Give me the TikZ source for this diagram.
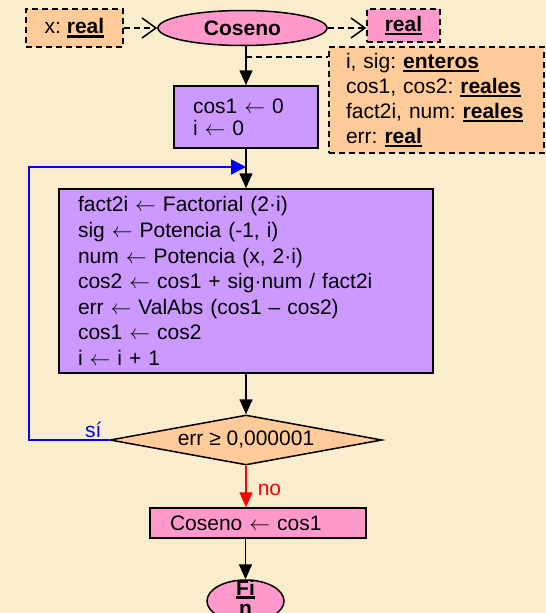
\documentclass[tikz,border=0pt]{standalone}
\usepackage{fontspec}
\setmainfont{Liberation Sans}
\usepackage{tikz}
\usetikzlibrary{arrows.meta,shapes.geometric,positioning}
\definecolor{fondo}{RGB}{250,237,205}
\definecolor{melocoton}{RGB}{255,204,153}
\definecolor{rosa}{RGB}{255,153,204}
\definecolor{lila}{RGB}{204,153,255}
\newsavebox{\tipobox}
\newcommand{\tipo}[1]{\sbox{\tipobox}{\textbf{#1}}\rlap{\rule[-4pt]{\wd\tipobox}{2.6pt}}\usebox{\tipobox}}
\newcommand{\asig}{\ensuremath{\leftarrow}}

\begin{document}
\frenchspacing
\begin{tikzpicture}[x=1pt,y=-1pt,
		font=\fontsize{21}{25}\selectfont,
		caja/.style={draw,line width=1.5pt,align=left,inner xsep=19pt,inner ysep=0pt},
		dato/.style={draw,line width=1.5pt,dash pattern=on 6pt off 4pt,fill=melocoton},
		flecha/.style={line width=1.5pt,-{Triangle[length=15pt,width=13pt]}},
		flechad/.style={line width=1.5pt,dash pattern=on 6pt off 4pt,-{Straight Barb[length=14pt,width=20pt]}}]
			\fill[fondo] (0,0) rectangle (546,613);
			\useasboundingbox (0,0) rectangle (546,613);
			\node[dato,minimum width=97pt,minimum height=38pt] (entrada) at (74.5,28) {x: \tipo{real}};
			\node[draw,ellipse,line width=1.5pt,fill=rosa,minimum width=169pt,minimum height=35pt,inner sep=0pt] (coseno) at (242.5,28) {\textbf{Coseno}};
			\node[dato,fill=rosa,minimum width=73pt,minimum height=33pt] (salida) at (403.5,25.5) {\tipo{real}};
			\node[dato,align=left,text width=181pt,inner xsep=17pt,minimum height=106pt] (locales) at (436.5,100) {i, sig: \tipo{enteros}\\cos1, cos2: \tipo{reales}\\fact2i, num: \tipo{reales}\\err: \tipo{real}};
			\node[caja,fill=lila,text width=106pt,minimum height=62pt,font=\fontsize{21}{22}\selectfont] (ini) at (246,117) {cos1 \asig{} 0\\i \asig{} 0};
			\node[caja,fill=lila,text width=336pt,minimum height=184pt,font=\fontsize{21}{25.6}\selectfont] (cuerpo) at (246,281) {fact2i \asig{} Factorial (2·i)\\sig \asig{} Potencia (-1, i)\\num \asig{} Potencia (x, 2·i)\\cos2 \asig{} cos1 + sig·num / fact2i\\err \asig{} ValAbs (cos1 – cos2)\\cos1 \asig{} cos2\\i \asig{} i + 1};
			\node[draw,diamond,line width=1.5pt,fill=melocoton,aspect=5.44,minimum width=272pt,minimum height=50pt,inner sep=0pt] (cond) at (246,440) {err ≥ 0,000001};
			\node[caja,fill=rosa,text width=176pt,minimum height=30pt,inner xsep=20pt] (res) at (258,523) {Coseno \asig{} cos1};
			\node[draw,ellipse,line width=1.5pt,fill=rosa,minimum width=77pt,minimum height=42pt,inner sep=0pt,align=center,text height=28pt,text depth=0pt,font=\fontsize{21}{20}\selectfont] (fin) at (245.5,601) {\tipo{Fi}\\\textbf{n}};
			\coordinate (junta) at (246,57);
			\coordinate (retorno) at (246,167);
			\draw[flechad] (entrada) -- (coseno);
			\draw[flechad] (coseno.east) -- (coseno.east -| salida.west);
			\draw[flecha] (coseno.south -| ini.north) -- (ini.north);
			\draw[line width=1.5pt,dash pattern=on 6pt off 4pt] (junta) -- (junta -| locales.west);
			\draw[flecha] (ini) -- (cuerpo);
			\draw[flecha] (cuerpo) -- (cond);
			\draw[flecha,red] (cond.south) -- node[right=10pt,pos=.58,inner sep=1pt] {no} (cond.south |- res.north);
			\draw[line width=2.4pt,blue,-{Triangle[length=15pt,width=15pt]}] (cond.west) -- node[above,pos=.2,inner sep=1pt] {sí} ++(-80,0) |- (retorno);
			\draw[flecha] (fin.north |- res.south) -- (fin.north);
\end{tikzpicture}
\end{document}
